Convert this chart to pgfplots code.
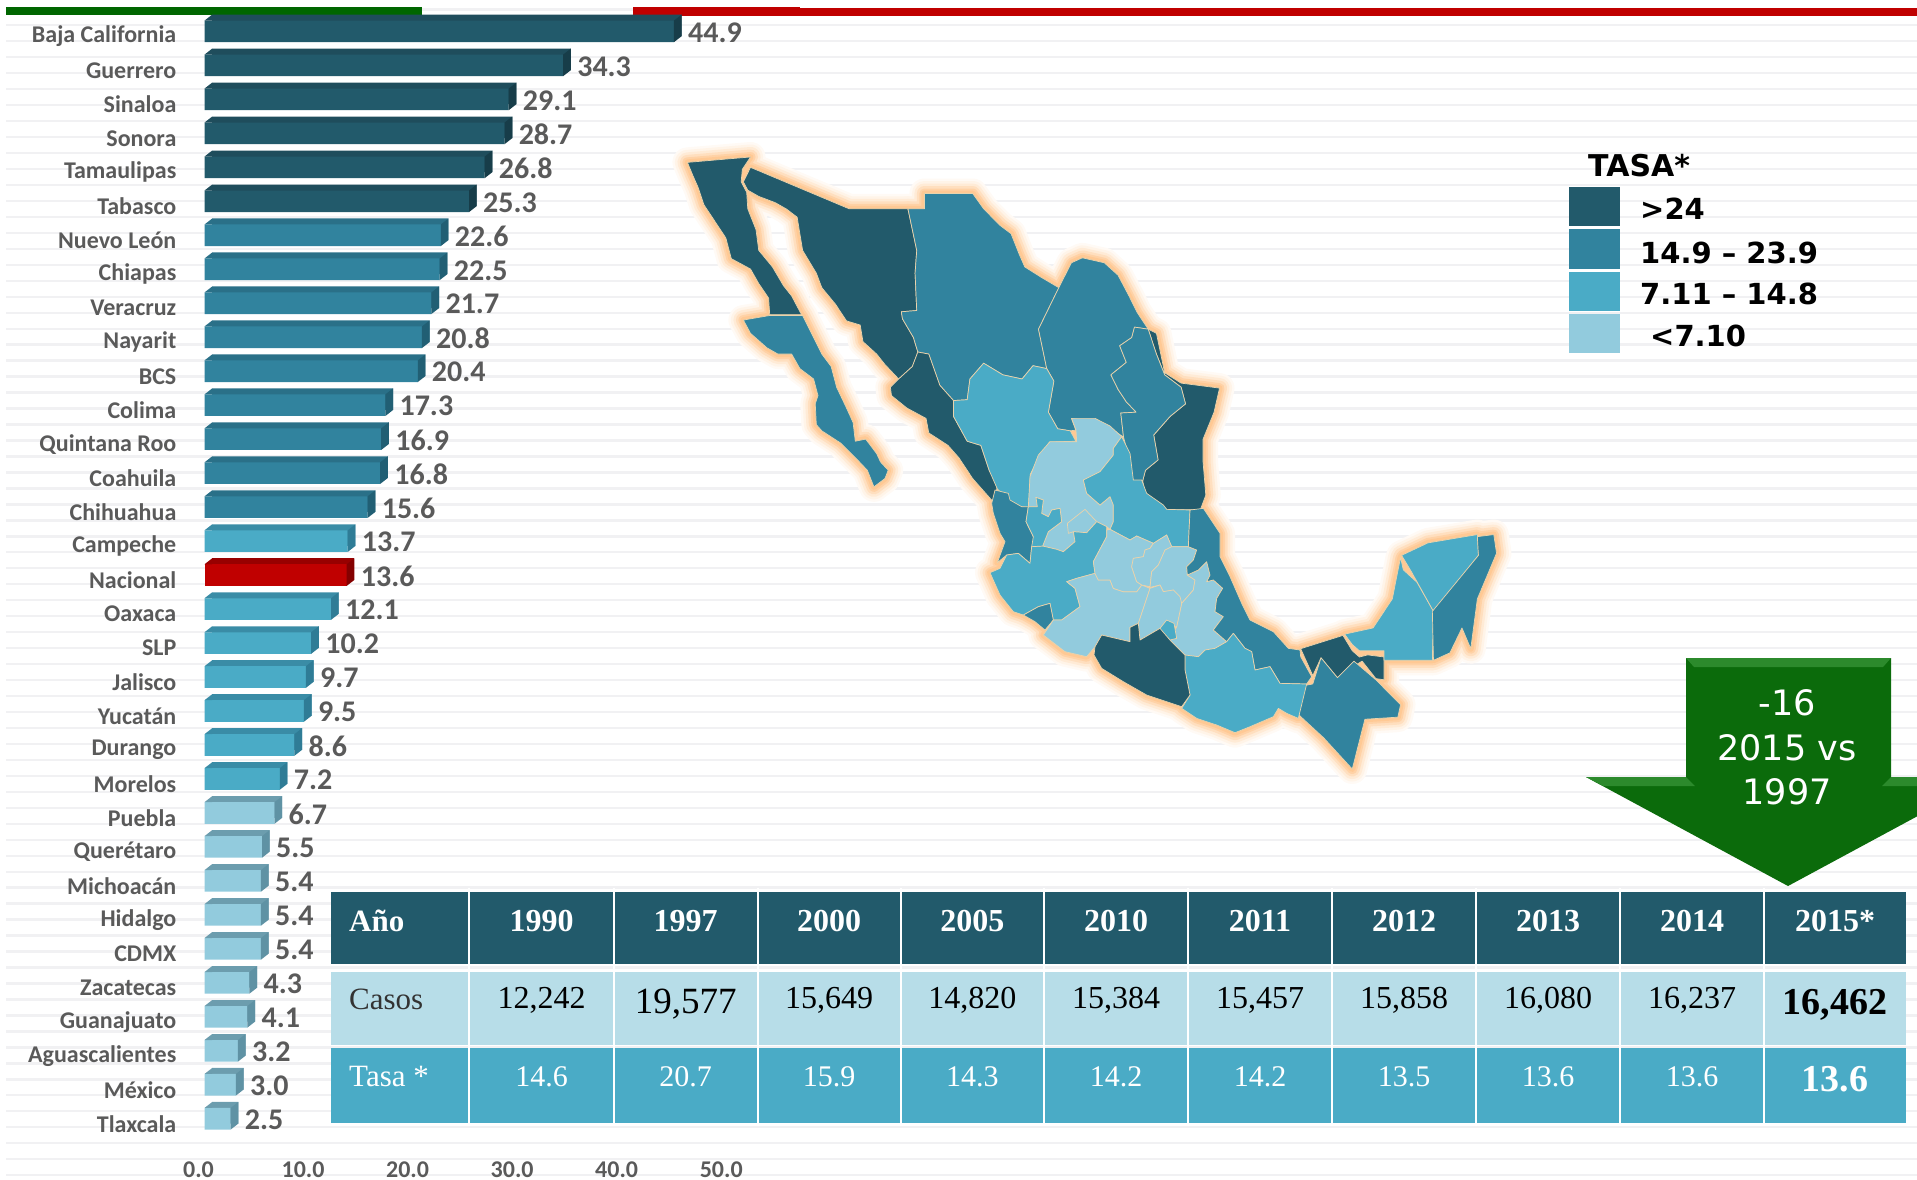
\documentclass[border=0pt]{standalone}
\usepackage{fontspec}
\usepackage{pgfplots}
\usepackage{pgfplotstable}
\pgfplotsset{compat=1.18}
\setmainfont{Carlito}
\newfontfamily\ser{Liberation Serif}
\newfontfamily\dejavu{DejaVu Sans}
\newcommand\fs[1]{\fontsize{#1}{#1}\selectfont}
\definecolor{cdark}{HTML}{225A6B}
\definecolor{cmid}{HTML}{31839E}
\definecolor{clight}{HTML}{4AABC6}
\definecolor{cpale}{HTML}{92CBDD}
\definecolor{crow}{HTML}{B7DDE8}
\definecolor{cred}{HTML}{C00000}
\definecolor{tdark}{HTML}{1F4D5C}
\definecolor{sdark}{HTML}{173D49}
\definecolor{tmid}{HTML}{2A7088}
\definecolor{smid}{HTML}{215F74}
\definecolor{tlight}{HTML}{3A8CA6}
\definecolor{slight}{HTML}{2F7C96}
\definecolor{tpale}{HTML}{6C9DAE}
\definecolor{spale}{HTML}{5F92A4}
\definecolor{tred}{HTML}{980000}
\definecolor{sred}{HTML}{840000}
\definecolor{txt}{HTML}{5A5A5A}
\definecolor{agreen}{HTML}{0B6B0B}
\definecolor{bgreen}{HTML}{2C8A2C}
\definecolor{gridc}{HTML}{F1F1F3}
\definecolor{border}{HTML}{E9D3AC}
\pgfdeclareplotmark{barside}{\pgfpathmoveto{\pgfpoint{0pt}{-10.8pt}}\pgfpathlineto{\pgfpoint{7.7pt}{-4.8pt}}\pgfpathlineto{\pgfpoint{7.7pt}{16.8pt}}\pgfpathlineto{\pgfpoint{0pt}{10.8pt}}\pgfpathclose\pgfusepathqfill}
\pgfdeclareplotmark{barcorner}{\pgfpathmoveto{\pgfpoint{0pt}{10.8pt}}\pgfpathlineto{\pgfpoint{7.7pt}{16.8pt}}\pgfpathlineto{\pgfpoint{7.7pt}{10.8pt}}\pgfpathclose\pgfusepathqfill}
\pgfplotstableread{
r v
0 44.9
1 34.3
2 29.1
3 28.7
4 26.8
5 25.3
}\tabdark
\pgfplotstableread{
r v
6 22.6
7 22.5
8 21.7
9 20.8
10 20.4
11 17.3
12 16.9
13 16.8
14 15.6
}\tabmid
\pgfplotstableread{
r v
15 13.7
17 12.1
18 10.2
19 9.7
20 9.5
21 8.6
22 7.2
}\tablight
\pgfplotstableread{
r v
16 13.6
}\tabred
\pgfplotstableread{
r v
23 6.7
24 5.5
25 5.4
26 5.4
27 5.4
28 4.3
29 4.1
30 3.2
31 3.0
32 2.5
}\tabpale
\newcommand\barclass[4]{%
 \addplot[xbar,bar width=21.6pt,bar shift=0pt,fill=#3,draw=none,xshift=7.7pt,yshift=6pt,forget plot] table[x=v,y=r]{#1};
 \addplot[only marks,mark=barcorner,mark options={fill=#3,draw=none},forget plot] table[x expr=0,y=r]{#1};
 \addplot[only marks,mark=barside,mark options={fill=#4,draw=none},forget plot] table[x=v,y=r]{#1};
 \addplot[xbar,bar width=21.6pt,bar shift=0pt,fill=#2,draw=none,forget plot,point meta=x,
   nodes near coords={\pgfmathprintnumber[fixed,fixed zerofill,precision=1,assume math mode=true]{\pgfplotspointmeta}},
   nodes near coords style={anchor=west,inner sep=0pt,xshift=14pt,yshift=-1pt,text=txt,font=\fs{30}\bfseries}] table[x=v,y=r]{#1};
}
% map polygons: Z4 and Z6 are the two tracing frames
\pgfplotsset{
 Z4/.style={x filter/.expression={660+x/1.823},y filter/.expression={130+y/2.41}},
 Z6/.style={x filter/.expression={950+x/3},y filter/.expression={390+y/3}},
}
\newcommand\mappolys{%
\P{Z4}{cdark}{(50,78)(165,65)(150,95)(148,125)(158,150)(160,190)(175,240)(180,290)(205,330)(225,375)(240,400)(258,445)(200,445)(198,405)(180,370)(165,335)(130,310)(120,260)(100,220)(80,180)(70,140)(60,110)}
\P{Z4}{cmid}{(152,458)(200,447)(260,447)(280,500)(295,540)(312,570)(322,620)(340,670)(352,705)(356,750)(375,745)(395,780)(402,800)(416,820)(410,840)(390,860)(378,820)(360,795)(330,755)(295,725)(285,710)(283,660)(288,640)(280,600)(255,575)(240,540)(215,540)(195,525)(165,490)}
\P{Z4}{cdark}{(165,90)(345,190)(452,190)(460,240)(468,290)(465,345)(468,435)(440,438)(442,455)(462,500)(470,535)(460,570)(435,600)(410,565)(395,540)(370,510)(365,470)(340,460)(320,420)(295,380)(285,345)(260,290)(250,210)(230,190)(210,175)(180,160)(160,145)(152,125)}
\P{Z4}{cmid}{(452,190)(482,190)(482,153)(570,153)(590,190)(620,230)(640,250)(655,300)(665,330)(695,355)(727,380)(690,480)(705,575)(680,568)(660,600)(625,590)(590,562)(565,600)(560,650)(535,652)(510,615)(490,540)(470,535)(462,500)(442,455)(440,438)(468,435)(465,345)(468,290)(460,240)}
\P{Z4}{cmid}{(727,380)(750,320)(770,308)(810,320)(835,350)(855,400)(870,440)(890,480)(865,475)(860,500)(838,520)(850,560)(822,590)(835,625)(850,655)(868,680)(840,682)(845,740)(805,705)(750,695)(758,723)(748,725)(725,720)(708,680)(718,605)(705,575)(690,480)}
\P{Z4}{cdark}{(890,480)(905,490)(920,585)(950,610)(1020,622)(1010,680)(990,745)(990,800)(995,880)(985,915)(925,915)(885,885)(880,845)(885,820)(908,795)(900,735)(930,690)(958,660)(950,620)(920,590)(905,540)}
\P{Z4}{cmid}{(890,480)(905,540)(920,590)(950,620)(958,660)(930,690)(900,735)(908,795)(885,820)(880,845)(862,850)(855,790)(845,740)(840,682)(868,680)(850,655)(835,625)(822,590)(850,560)(838,520)(860,500)(865,475)}
\P{Z4}{cdark}{(470,535)(490,540)(510,615)(535,652)(535,690)(560,750)(585,760)(600,820)(615,855)(610,900)(570,840)(545,790)(525,760)(490,730)(485,695)(450,670)(422,640)(420,620)(435,600)(460,570)}
\P{Z4}{clight}{(535,652)(560,650)(565,600)(590,562)(625,590)(660,600)(680,568)(705,575)(718,605)(708,680)(725,720)(748,725)(758,750)(710,752)(690,790)(675,830)(672,910)(645,905)(615,865)(600,820)(585,760)(560,750)(535,690)}
\P{Z6}{cmid}{(135,300)(175,310)(180,330)(215,350)(235,350)(228,395)(250,440)(262,462)(245,470)(240,520)(205,490)(170,495)(142,518)(165,455)(150,430)(130,370)(125,340)}
\P{Z6}{cpale}{(365,85)(435,85)(480,108)(515,140)(490,175)(490,195)(450,245)(400,270)(410,310)(450,345)(480,320)(490,345)(490,395)(480,418)(470,410)(440,395)(410,428)(370,425)(375,455)(340,485)(320,478)(278,468)(295,425)(335,395)(330,355)(305,360)(295,380)(275,370)(280,330)(258,322)(262,350)(235,350)(240,260)(265,195)(300,155)(380,155)(378,120)}
\P{Z6}{cpale}{(352,400)(405,358)(440,395)(410,428)(370,425)(355,430)}
\P{Z6}{clight}{(515,140)(540,190)(550,270)(575,270)(590,310)(640,345)(650,358)(720,360)(715,470)(665,470)(650,435)(610,460)(560,438)(540,450)(480,418)(490,395)(490,345)(480,320)(450,345)(410,310)(400,270)(450,245)(490,195)(490,175)}
\P{Z6}{clight}{(240,520)(245,470)(278,468)(320,478)(340,485)(375,455)(370,425)(410,428)(440,395)(470,410)(470,440)(430,515)(435,550)(380,565)(350,575)(375,595)(390,650)(335,690)(310,690)(300,640)(265,650)(220,675)(190,665)(150,615)(120,548)(150,535)(170,495)(205,490)}
\P{Z6}{clight}{(235,350)(262,350)(258,322)(280,330)(275,370)(295,380)(305,360)(330,355)(335,395)(295,425)(278,468)(245,470)(250,440)(228,395)}
\P{Z6}{cmid}{(220,675)(265,650)(300,640)(310,690)(285,720)(255,695)}
\P{Z6}{cpale}{(350,575)(380,565)(435,550)(445,570)(480,570)(490,595)(520,605)(560,605)(575,585)(600,595)(585,640)(565,700)(540,712)(540,755)(455,735)(435,770)(410,800)(345,785)(280,735)(310,690)(335,690)(390,650)(375,595)}
\P{Z6}{cpale}{(470,420)(480,418)(540,450)(560,438)(610,460)(600,475)(585,480)(580,500)(550,505)(545,530)(560,575)(575,585)(560,605)(520,605)(490,595)(480,570)(445,570)(435,550)(430,515)(470,440)}
\P{Z6}{cpale}{(610,460)(650,435)(665,470)(645,480)(625,525)(605,545)(600,590)(575,585)(560,575)(545,530)(550,505)(580,500)(585,480)(600,475)}
\P{Z6}{cpale}{(665,470)(715,470)(740,480)(730,510)(710,530)(712,555)(735,570)(730,600)(695,640)(670,600)(640,605)(630,585)(600,592)(605,545)(625,525)(645,480)}
\P{Z6}{cpale}{(712,555)(745,540)(770,515)(780,555)(770,575)(790,570)(818,595)(800,625)(795,665)(820,680)(790,720)(830,755)(795,775)(765,780)(745,800)(705,795)(660,750)(680,710)(695,640)(730,600)(735,570)}
\P{Z6}{cpale}{(600,595)(630,585)(640,605)(670,600)(690,620)(695,640)(680,710)(630,715)(570,750)(565,700)(585,640)}
\P{Z6}{clight}{(630,715)(650,690)(672,700)(680,745)(660,750)(630,720)}
\P{Z6}{cmid}{(720,360)(760,355)(810,430)(810,500)(840,560)(875,640)(900,690)(970,725)(1015,775)(1050,780)(1052,800)(1085,860)(1070,882)(990,880)(960,830)(915,840)(905,785)(885,775)(850,730)(830,755)(790,720)(820,680)(795,665)(800,625)(818,595)(790,570)(770,575)(780,555)(770,515)(745,540)(712,555)(710,530)(730,510)(740,480)(715,470)}
\P{Z4}{cdark}{(1168,1250)(1245,1218)(1262,1255)(1275,1270)(1290,1265)(1320,1270)(1320,1325)(1305,1322)(1280,1280)(1255,1300)(1235,1320)(1205,1272)(1190,1315)(1185,1300)}
\P{Z4}{cmid}{(1190,1335)(1205,1272)(1235,1320)(1265,1280)(1305,1325)(1350,1385)(1345,1415)(1285,1420)(1262,1540)(1210,1465)(1165,1410)(1170,1340)}
\P{Z6}{clight}{(705,795)(745,800)(765,780)(795,775)(830,755)(850,730)(885,775)(905,785)(915,840)(960,830)(990,880)(1070,882)(1045,985)(1010,970)(985,955)(970,980)(900,1010)(855,1028)(800,1005)(740,985)(695,955)(720,915)(705,840)}
\P{Z6}{cdark}{(540,712)(565,700)(570,750)(630,715)(660,750)(705,795)(705,840)(720,915)(695,950)(590,915)(520,875)(455,835)(432,795)(435,770)(455,735)(540,755)}
\P{Z4}{clight}{(1248,1215)(1300,1200)(1335,1130)(1350,1030)(1355,1060)(1380,1090)(1410,1160)(1408,1278)(1320,1278)(1320,1255)(1275,1255)(1262,1240)}
\P{Z4}{clight}{(1352,1025)(1400,995)(1490,975)(1492,1025)(1410,1160)(1370,1065)}
\P{Z4}{cmid}{(1490,980)(1520,975)(1525,1020)(1490,1130)(1478,1250)(1462,1200)(1440,1260)(1410,1278)(1408,1160)(1492,1025)}
}
\newcommand\glow[2]{\def\P##1##2##3{\addplot[##1,draw=#2,fill=#2,line width=#1pt,line join=round,no markers,forget plot] coordinates {##3} --cycle;}\mappolys}
\newcommand\hd[2]{\node[anchor=base,inner sep=0pt,text=white] at (axis cs:#1,931) {\ser\bfseries\fs{32}#2};}
\newcommand\cs[2]{\node[anchor=base,inner sep=0pt,text=black] at (axis cs:#1,1008.5) {\ser\fs{32}#2};}
\newcommand\ta[2]{\node[anchor=base,inner sep=0pt,text=white] at (axis cs:#1,1086) {\ser\fs{30}#2};}
\newcommand\lgt[3]{\node[anchor=base west,inner sep=0pt,text=black] at (axis cs:#1,#2) {\dejavu\bfseries\fs{29}#3};}
\newcommand\swatch[3]{\addplot[fill=#1,draw=none,forget plot] coordinates {(1569,#2)(1620,#2)(1620,#3)(1569,#3)} --cycle;}
\begin{document}
\begin{tikzpicture}
\path[use as bounding box] (0pt,0pt) rectangle (1917pt,-1180pt);
\begin{axis}[
  at={(0pt,0pt)},anchor=north west,scale only axis,width=1917pt,height=1180pt,
  xmin=0,xmax=1917,ymin=0,ymax=1180,y dir=reverse,
  axis line style={draw=none},tick style={draw=none},
  xtick=\empty,ytick={9.3,25.27,...,1175},yticklabel={\empty},
  ymajorgrids,grid style={draw=gridc,line width=2.4pt},
]
\addplot[fill=white,draw=none,forget plot] coordinates {(0,0)(6,0)(6,1180)(0,1180)} --cycle;
\addplot[fill=white,draw=none,forget plot] coordinates {(0,0)(1917,0)(1917,5)(0,5)} --cycle;
% top stripes
\addplot[fill=black!0!green!40!black,draw=none,forget plot] coordinates {(6,7)(422,7)(422,15)(6,15)} --cycle;
\addplot[fill=cred,draw=none,forget plot] coordinates {(632.5,7)(800,7)(800,15.5)(632.5,15.5)} --cycle;
\addplot[fill=cred,draw=none,forget plot] coordinates {(800,8)(1917,8)(1917,16)(800,16)} --cycle;
% map
\glow{30}{orange!4!white}
\glow{25}{orange!9!white}
\glow{20}{orange!16!white}
\glow{15}{orange!25!white}
\glow{10}{orange!35!white}
\glow{6}{orange!42!white}
\def\P#1#2#3{\addplot[#1,draw=border,fill=#2,line width=0.7pt,line join=round,no markers,forget plot] coordinates {#3} --cycle;}
\mappolys
% legend
\swatch{cdark}{186.7}{226}
\swatch{cmid}{229}{268.7}
\swatch{clight}{272}{311}
\swatch{cpale}{314}{352.7}
\node[anchor=base west,inner sep=0pt,text=black] at (axis cs:1588,176) {\dejavu\bfseries\fs{30}TASA*};
\lgt{1640}{219}{>24}
\lgt{1640}{263}{14.9 – 23.9}
\lgt{1640}{304}{7.11 – 14.8}
\lgt{1650}{346}{<7.10}
% arrow
\addplot[fill=agreen,draw=none,forget plot] coordinates {(1686,658)(1891,658)(1891,777)(1990,777)(1788,886)(1586,777)(1686,777)} --cycle;
\addplot[fill=bgreen,draw=none,forget plot] coordinates {(1686,658)(1891,658)(1883,667)(1694,667)} --cycle;
\addplot[fill=bgreen,draw=none,forget plot] coordinates {(1586,777)(1686,777)(1695,786)(1603,786)} --cycle;
\addplot[fill=bgreen,draw=none,forget plot] coordinates {(1891,777)(1990,777)(1975,786)(1882,786)} --cycle;
\node[anchor=base,inner sep=0pt,text=white] at (axis cs:1787,715) {\dejavu\fs{35}-16};
\node[anchor=base,inner sep=0pt,text=white] at (axis cs:1787,760) {\dejavu\fs{35}2015 vs};
\node[anchor=base,inner sep=0pt,text=white] at (axis cs:1787,804) {\dejavu\fs{35}1997};
% table
\addplot[fill=cdark,draw=none,forget plot] coordinates {(330.6,891.7)(1906,891.7)(1906,963.7)(330.6,963.7)} --cycle;
\addplot[fill=crow,draw=none,forget plot] coordinates {(330.6,972.3)(1906,972.3)(1906,1045)(330.6,1045)} --cycle;
\addplot[fill=clight,draw=none,forget plot] coordinates {(330.6,1047.7)(1906,1047.7)(1906,1123)(330.6,1123)} --cycle;
\draw[white,line width=2.2pt] (469,888)--(469,1126);
\draw[white,line width=2.2pt] (613.7,888)--(613.7,1126);
\draw[white,line width=2.2pt] (757.6,888)--(757.6,1126);
\draw[white,line width=2.2pt] (900.8,888)--(900.8,1126);
\draw[white,line width=2.2pt] (1043.9,888)--(1043.9,1126);
\draw[white,line width=2.2pt] (1188,888)--(1188,1126);
\draw[white,line width=2.2pt] (1332,888)--(1332,1126);
\draw[white,line width=2.2pt] (1476,888)--(1476,1126);
\draw[white,line width=2.2pt] (1620,888)--(1620,1126);
\draw[white,line width=2.2pt] (1764,888)--(1764,1126);
\node[anchor=base west,inner sep=0pt,text=white] at (axis cs:349,931) {\ser\bfseries\fs{31}Año};
\node[anchor=base west,inner sep=0pt,text=black!80] at (axis cs:349,1009) {\ser\fs{31}Casos};
\node[anchor=base west,inner sep=0pt,text=white] at (axis cs:349,1086) {\ser\fs{31}Tasa *};
\hd{541.5}{1990}\hd{685.7}{1997}\hd{829.2}{2000}\hd{972.4}{2005}\hd{1116}{2010}\hd{1260}{2011}\hd{1404}{2012}\hd{1548}{2013}\hd{1692}{2014}\hd{1835}{2015*}
\cs{541.5}{12,242}
\node[anchor=base,inner sep=0pt,text=black] at (axis cs:685.7,1013.5) {\ser\fs{37}19,577};
\cs{829.2}{15,649}\cs{972.4}{14,820}\cs{1116}{15,384}\cs{1260}{15,457}\cs{1404}{15,858}\cs{1548}{16,080}\cs{1692}{16,237}
\node[anchor=base,inner sep=0pt,text=black] at (axis cs:1835,1014) {\ser\bfseries\fs{38}16,462};
\ta{541.5}{14.6}\ta{685.7}{20.7}\ta{829.2}{15.9}\ta{972.4}{14.3}\ta{1116}{14.2}\ta{1260}{14.2}\ta{1404}{13.5}\ta{1548}{13.6}\ta{1692}{13.6}
\node[anchor=base,inner sep=0pt,text=white] at (axis cs:1835,1091) {\ser\bfseries\fs{38}13.6};
\end{axis}
\begin{axis}[
  at={(204.5pt,-14.41pt)},anchor=north west,scale only axis,width=627.3pt,height=1138.34pt,
  xmin=0,xmax=60,ymin=-0.5,ymax=33,y dir=reverse,clip=false,
  axis line style={draw=none},tick style={draw=none},
  xtick={0,10,20,30,40,50},xticklabels={0.0,10.0,20.0,30.0,40.0,50.0},
  xticklabel style={xshift=-6pt,yshift=-5pt,text=txt,font=\fs{24}\bfseries},
  ytick={0,...,32},
  yticklabels={Baja California,Guerrero,Sinaloa,Sonora,Tamaulipas,Tabasco,Nuevo León,Chiapas,Veracruz,Nayarit,BCS,Colima,Quintana Roo,Coahuila,Chihuahua,Campeche,Nacional,Oaxaca,SLP,Jalisco,Yucatán,Durango,Morelos,Puebla,Querétaro,Michoacán,Hidalgo,CDMX,Zacatecas,Guanajuato,Aguascalientes,México,Tlaxcala},
  yticklabel style={anchor=east,inner sep=0pt,xshift=-28pt,yshift=-5pt,text=txt,font=\fs{24}\bfseries},
]
\barclass{\tabdark}{cdark}{tdark}{sdark}
\barclass{\tabmid}{cmid}{tmid}{smid}
\barclass{\tablight}{clight}{tlight}{slight}
\barclass{\tabred}{cred}{tred}{sred}
\barclass{\tabpale}{cpale}{tpale}{spale}
\end{axis}
\end{tikzpicture}
\end{document}
